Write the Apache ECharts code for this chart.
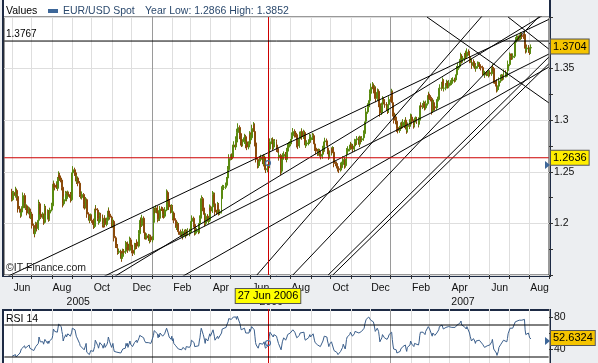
<!DOCTYPE html>
<html><head><meta charset="utf-8">
<script src="https://cdn.jsdelivr.net/npm/echarts@6/dist/echarts.min.js"></script>
<style>html,body{margin:0;padding:0;background:#eceef1;}#c{width:598px;height:363px;}</style>
</head><body><div id="c"></div><script>
// ---------- DATA ----------
const axisStart = '2005-05-20';
const axisDays = 833;
const monthNames = ['Jan','Feb','Mar','Apr','May','Jun','Jul','Aug','Sep','Oct','Nov','Dec'];
const seriesName = 'EUR/USD Spot';
const headerText = 'Year Low: 1.2866 High: 1.3852';
const firstOpen = 1.2310;

const closeJun05 = [1.2230,1.2280,1.2300,1.2270,1.2320,1.2250,1.2260,1.2140,1.2120,1.2080,1.2110,1.2150,1.2270,1.2190,1.2150,1.2170,1.2120,1.2100,1.2140,1.2080,1.2060,1.2090];
const closeJul05 = [1.1980,1.1940,1.1900,1.1930,1.1990,1.1950,1.2030,1.2190,1.2150,1.2090,1.2060,1.2080,1.2030,1.2010,1.2150,1.2110,1.2060,1.2110,1.2040,1.2100,1.2130];
const closeAug05 = [1.2170,1.2250,1.2380,1.2370,1.2350,1.2380,1.2340,1.2420,1.2470,1.2440,1.2420,1.2350,1.2290,1.2190,1.2230,1.2290,1.2240,1.2270,1.2290,1.2280,1.2250,1.2230,1.2340];
const closeSep05 = [1.2490,1.2520,1.2490,1.2460,1.2410,1.2440,1.2390,1.2320,1.2280,1.2260,1.2250,1.2280,1.2180,1.2160,1.2210,1.2230,1.2090,1.2060,1.2030,1.2050,1.2070,1.2030];
const closeOct05 = [1.1990,1.1970,1.2040,1.2140,1.2130,1.2050,1.2010,1.2020,1.2080,1.2070,1.2030,1.1990,1.1980,1.2050,1.1990,1.2030,1.2060,1.2120,1.2090,1.2060,1.1990];
const closeNov05 = [1.1980,1.2020,1.1940,1.1860,1.1790,1.1780,1.1750,1.1720,1.1730,1.1700,1.1660,1.1680,1.1730,1.1720,1.1730,1.1800,1.1770,1.1800,1.1740,1.1840,1.1800,1.1790];
const closeDec05 = [1.1740,1.1710,1.1780,1.1790,1.1770,1.1820,1.1780,1.1900,1.1990,1.2030,1.1980,1.2050,1.1980,1.1910,1.1870,1.1860,1.1880,1.1860,1.1850,1.1830,1.1870,1.1840];
const closeJan06 = [1.1860,1.2010,1.2130,1.2120,1.2150,1.2100,1.2040,1.2100,1.2050,1.2140,1.2140,1.2080,1.2090,1.2070,1.2130,1.2270,1.2300,1.2240,1.2230,1.2160,1.2120,1.2160];
const closeFeb06 = [1.2060,1.2100,1.2030,1.1990,1.1960,1.1960,1.1990,1.1920,1.1890,1.1890,1.1900,1.1870,1.1920,1.1900,1.1880,1.1920,1.1900,1.1930,1.1900,1.1920];
const closeMar06 = [1.1930,1.2020,1.2050,1.1990,1.1910,1.1920,1.1920,1.1930,1.1920,1.2000,1.2050,1.2150,1.2240,1.2150,1.2110,1.2060,1.2000,1.2070,1.2040,1.2020,1.2030,1.2150,1.2120];
const closeApr06 = [1.2160,1.2280,1.2280,1.2190,1.2110,1.2110,1.2180,1.2130,1.2100,1.2110,1.2240,1.2330,1.2350,1.2350,1.2350,1.2370,1.2420,1.2440,1.2520,1.2630];
const closeMay06 = [1.2640,1.2650,1.2640,1.2690,1.2760,1.2740,1.2810,1.2790,1.2880,1.2930,1.2850,1.2870,1.2790,1.2770,1.2790,1.2830,1.2840,1.2760,1.2790,1.2740,1.2770,1.2860,1.2810];
const closeJun06 = [1.2830,1.2920,1.2950,1.2890,1.2780,1.2670,1.2620,1.2560,1.2580,1.2620,1.2620,1.2640,1.2600,1.2580,1.2640,1.2580,1.2520,1.2530,1.2550,1.2550,1.2720,1.2790];
const closeJul06 = [1.2800,1.2810,1.2740,1.2780,1.2790,1.2760,1.2720,1.2710,1.2640,1.2660,1.2510,1.2520,1.2620,1.2650,1.2670,1.2640,1.2620,1.2700,1.2740,1.2760,1.2770];
const closeAug06 = [1.2790,1.2820,1.2850,1.2890,1.2860,1.2870,1.2860,1.2770,1.2750,1.2820,1.2860,1.2860,1.2890,1.2840,1.2880,1.2800,1.2760,1.2770,1.2780,1.2790,1.2790,1.2840,1.2810];
const closeSep06 = [1.2830,1.2850,1.2810,1.2770,1.2730,1.2700,1.2680,1.2690,1.2700,1.2680,1.2650,1.2670,1.2720,1.2710,1.2790,1.2800,1.2780,1.2730,1.2700,1.2650,1.2680];
const closeOct06 = [1.2710,1.2700,1.2720,1.2690,1.2580,1.2580,1.2560,1.2550,1.2530,1.2520,1.2560,1.2540,1.2570,1.2590,1.2620,1.2560,1.2600,1.2670,1.2700,1.2720,1.2730,1.2760];
const closeNov06 = [1.2750,1.2750,1.2720,1.2750,1.2790,1.2780,1.2810,1.2820,1.2790,1.2770,1.2820,1.2810,1.2820,1.2830,1.2870,1.2950,1.2990,1.3080,1.3130,1.3150,1.3190,1.3260];
const closeDec06 = [1.3320,1.3330,1.3310,1.3290,1.3310,1.3210,1.3270,1.3280,1.3230,1.3160,1.3070,1.3140,1.3200,1.3200,1.3180,1.3150,1.3150,1.3120,1.3090,1.3150,1.3200];
const closeJan07 = [1.3200,1.3270,1.3170,1.3070,1.3000,1.3030,1.2990,1.2920,1.2930,1.2900,1.2920,1.2950,1.2960,1.2940,1.2980,1.2950,1.3000,1.2940,1.2900,1.2950,1.2940,1.2980,1.3030];
const closeFeb07 = [1.3030,1.2990,1.2950,1.2990,1.3000,1.3010,1.2990,1.2960,1.3000,1.3090,1.3140,1.3130,1.3140,1.3160,1.3130,1.3120,1.3160,1.3190,1.3240,1.3230];
const closeMar07 = [1.3220,1.3210,1.3090,1.3160,1.3170,1.3130,1.3120,1.3170,1.3200,1.3200,1.3240,1.3310,1.3310,1.3340,1.3380,1.3310,1.3310,1.3330,1.3360,1.3340,1.3330,1.3360];
const closeApr07 = [1.3360,1.3360,1.3380,1.3380,1.3390,1.3390,1.3410,1.3440,1.3490,1.3520,1.3550,1.3590,1.3620,1.3580,1.3590,1.3600,1.3620,1.3640,1.3620,1.3660,1.3650];
const closeMay07 = [1.3610,1.3580,1.3580,1.3530,1.3560,1.3550,1.3530,1.3500,1.3520,1.3540,1.3540,1.3530,1.3520,1.3510,1.3480,1.3460,1.3460,1.3440,1.3450,1.3450,1.3450,1.3440,1.3460];
const closeJun07 = [1.3450,1.3480,1.3510,1.3500,1.3390,1.3380,1.3330,1.3300,1.3310,1.3330,1.3380,1.3410,1.3420,1.3420,1.3410,1.3460,1.3440,1.3440,1.3440,1.3480,1.3540];
const closeJul07 = [1.3620,1.3610,1.3620,1.3610,1.3620,1.3650,1.3760,1.3770,1.3790,1.3790,1.3790,1.3800,1.3800,1.3820,1.3810,1.3810,1.3830,1.3730,1.3680,1.3690,1.3700,1.3680];
const closeAug07 = [1.3660,1.3700,1.3704];

// daily wicks in pips above the body / below the body: [up, down]
const wickJun05 = [[25,18],[30,12],[15,28],[22,20],[35,15],[18,30],[25,22],[12,35],[28,16],[20,26],[32,14],[16,24],[30,20],[22,34],[18,20],[26,15],[14,28],[20,22],[24,12],[15,30],[28,18],[20,16]];
const wickJul05 = [[22,30],[18,25],[15,35],[30,14],[26,20],[20,28],[35,15],[40,22],[18,30],[24,26],[20,18],[28,15],[16,30],[22,24],[38,12],[20,28],[15,22],[26,18],[20,24],[28,15],[22,20]];
const wickAug05 = [[30,14],[26,18],[35,12],[20,25],[18,30],[28,16],[22,24],[30,15],[35,20],[20,28],[24,22],[16,30],[20,26],[15,35],[30,18],[25,15],[20,26],[22,18],[28,20],[18,22],[24,25],[16,28],[38,14]];
const wickSep05 = [[40,15],[35,22],[20,30],[18,26],[22,28],[30,15],[15,30],[20,32],[18,24],[25,20],[22,18],[30,15],[14,34],[20,26],[28,16],[26,20],[12,36],[18,24],[20,28],[24,18],[26,15],[18,25]];
const wickOct05 = [[16,30],[20,24],[30,15],[38,14],[22,26],[18,28],[20,22],[24,18],[28,15],[22,20],[16,26],[18,30],[20,22],[30,14],[15,28],[26,18],[28,16],[35,14],[20,26],[18,24],[14,32]];
const wickNov05 = [[24,22],[30,18],[15,30],[18,35],[16,28],[22,20],[20,26],[18,24],[26,16],[15,28],[20,32],[28,14],[26,18],[22,20],[24,15],[30,14],[18,22],[25,18],[16,26],[32,12],[20,24],[22,20]];
const wickDec05 = [[18,30],[20,26],[28,14],[22,18],[20,24],[26,16],[18,28],[35,14],[30,18],[28,20],[20,30],[34,15],[18,30],[16,28],[20,24],[22,18],[24,16],[18,22],[20,20],[16,24],[24,15],[20,22]];
const wickJan06 = [[16,24],[35,12],[32,18],[22,24],[26,18],[20,28],[18,30],[28,16],[20,26],[30,14],[24,20],[18,26],[22,20],[20,24],[28,16],[38,12],[30,20],[18,30],[22,22],[16,30],[20,24],[26,18]];
const wickFeb06 = [[18,30],[26,20],[16,28],[20,26],[22,24],[20,22],[26,16],[14,30],[20,24],[22,20],[24,18],[16,26],[28,14],[20,22],[18,24],[26,16],[20,22],[24,18],[18,24],[22,20]];
const wickMar06 = [[20,24],[32,14],[28,18],[16,30],[18,28],[22,20],[20,22],[24,18],[20,24],[30,15],[28,18],[36,14],[32,20],[16,32],[20,26],[18,28],[16,30],[28,16],[20,24],[18,22],[24,20],[34,14],[22,24]];
const wickApr06 = [[28,18],[34,14],[22,20],[18,30],[16,28],[22,22],[28,16],[18,26],[20,24],[24,18],[35,14],[30,16],[24,20],[22,22],[20,24],[26,18],[30,16],[24,20],[36,14],[40,16]];
const wickMay06 = [[30,20],[28,22],[24,26],[32,18],[36,16],[22,28],[34,18],[24,26],[38,15],[40,20],[20,34],[28,22],[18,36],[22,30],[26,24],[30,20],[28,22],[18,32],[24,24],[20,30],[26,22],[34,18],[22,28]];
const wickJun06 = [[30,20],[36,18],[32,22],[20,30],[18,34],[16,36],[20,30],[18,28],[26,22],[28,20],[24,24],[26,20],[22,26],[20,28],[30,18],[18,30],[16,32],[22,24],[24,22],[26,20],[38,14],[34,18]];
const wickJul06 = [[26,22],[24,24],[18,30],[26,22],[28,20],[22,26],[20,28],[24,24],[18,32],[26,22],[14,40],[22,26],[34,16],[30,20],[28,22],[22,26],[20,28],[32,18],[30,20],[28,22],[26,24]];
const wickAug06 = [[28,22],[30,20],[32,18],[34,16],[22,28],[26,24],[24,26],[18,34],[20,30],[32,18],[30,20],[26,24],[32,18],[20,30],[28,22],[18,32],[20,28],[24,24],[26,22],[24,24],[22,26],[30,20],[20,28]];
const wickSep06 = [[30,20],[28,22],[20,30],[18,30],[20,28],[18,32],[22,26],[24,24],[26,22],[22,26],[18,30],[24,24],[32,18],[24,26],[36,16],[30,20],[22,28],[18,32],[20,30],[16,34],[26,22]];
const wickOct06 = [[26,22],[24,24],[28,20],[20,28],[16,36],[22,26],[20,28],[18,30],[20,28],[18,32],[30,18],[22,26],[28,20],[30,18],[32,16],[18,30],[28,20],[34,16],[30,18],[28,20],[26,22],[30,18]];
const wickNov06 = [[24,24],[26,22],[20,28],[28,20],[30,18],[24,24],[28,20],[26,22],[20,28],[18,30],[30,18],[24,24],[26,22],[28,20],[32,16],[38,14],[34,18],[40,14],[34,18],[30,20],[34,16],[38,14]];
const wickDec06 = [[36,18],[40,20],[26,28],[22,30],[30,22],[18,36],[30,22],[28,24],[20,30],[18,34],[16,36],[30,20],[32,18],[26,24],[22,28],[20,30],[24,24],[20,28],[18,30],[30,20],[32,18]];
const wickJan07 = [[28,22],[34,18],[18,34],[16,34],[18,32],[28,20],[20,30],[16,34],[24,24],[20,28],[26,22],[28,20],[26,22],[22,26],[30,18],[22,26],[30,18],[18,30],[16,32],[28,20],[22,26],[30,18],[34,16]];
const wickFeb07 = [[28,22],[20,30],[18,32],[28,20],[26,22],[26,22],[22,26],[18,30],[28,20],[36,16],[34,18],[24,26],[26,22],[30,20],[20,28],[22,26],[30,18],[32,18],[36,16],[24,26]];
const wickMar07 = [[26,24],[22,28],[16,36],[30,20],[28,22],[20,30],[22,28],[30,20],[28,22],[24,24],[32,18],[38,16],[26,24],[32,18],[34,18],[18,32],[24,26],[30,20],[32,18],[22,28],[24,24],[30,20]];
const wickApr07 = [[26,22],[24,24],[28,20],[24,24],[26,22],[22,26],[30,18],[32,18],[36,16],[34,18],[34,16],[36,18],[34,18],[20,30],[28,22],[30,20],[32,18],[34,18],[22,28],[36,16],[26,24]];
const wickMay07 = [[20,30],[22,28],[26,24],[18,32],[30,20],[24,26],[22,28],[18,30],[28,22],[30,20],[26,24],[22,26],[24,24],[22,28],[18,30],[20,28],[24,24],[18,30],[26,22],[24,24],[26,22],[22,26],[28,20]];
const wickJun07 = [[24,26],[30,20],[32,18],[24,26],[16,34],[22,28],[18,30],[16,32],[26,22],[30,18],[34,16],[32,18],[28,22],[26,24],[24,26],[32,18],[24,26],[26,22],[24,24],[32,18],[38,14]];
const wickJul07 = [[36,16],[26,24],[28,22],[24,26],[28,22],[32,18],[40,14],[34,18],[34,16],[30,20],[30,20],[32,18],[28,22],[34,16],[26,24],[28,22],[36,16],[18,36],[16,34],[26,24],[28,22],[22,28]];
const wickAug07 = [[22,28],[32,18],[28,22]];

const rsiJun05 = [31,29,30,33,30,32,29,31,35,33,40,42,39,44,41,43,40,42,45,41,43,40];
const rsiJul05 = [40,38,36,39,43,41,47,55,52,49,47,49,46,45,52,50,47,50,47,50,52];
const rsiAug05 = [53,57,65,64,62,64,61,66,71,69,68,62,58,50,53,58,55,57,59,58,56,54,61];
const rsiSep05 = [66,68,64,60,56,58,54,47,44,43,42,46,39,37,44,47,36,35,33,35,38,36];
const rsiOct05 = [37,36,43,51,50,44,41,42,48,47,44,41,40,47,42,46,49,55,52,49,42];
const rsiNov05 = [44,47,41,37,35,36,35,34,36,35,33,36,40,39,41,47,44,47,42,50,46,45];
const rsiDec05 = [45,43,48,49,47,51,48,54,57,59,55,58,54,51,49,48,50,48,47,46,49,47];
const rsiJan06 = [48,57,63,62,64,59,54,58,55,60,60,56,57,55,59,66,67,61,60,55,52,56];
const rsiFeb06 = [50,53,47,44,42,42,45,40,38,38,39,37,42,41,39,43,41,44,42,44];
const rsiMar06 = [45,51,53,48,43,44,44,45,44,50,54,61,66,58,55,51,47,53,50,49,50,59,56];
const rsiApr06 = [58,64,63,56,51,51,56,53,51,52,60,65,66,66,66,67,70,71,74,78];
const rsiMay06 = [76,77,75,77,80,78,80,77,81,82,72,73,64,62,64,66,66,60,62,58,60,65,62];
const rsiJun06 = [63,68,70,64,56,48,45,41,43,47,47,49,46,44,49,45,41,42,44,44,56,61];
const rsiJul06 = [60,60,55,58,59,56,53,52,47,49,39,40,49,51,54,51,49,55,58,60,60];
const rsiAug06 = [60,61,62,64,61,62,60,54,52,57,60,60,62,58,61,54,51,52,53,54,54,58,55];
const rsiSep06 = [57,59,55,51,48,46,45,46,47,45,43,45,50,49,56,57,55,50,47,43,46];
const rsiOct06 = [49,48,50,47,38,38,36,35,33,32,37,35,39,42,46,40,45,52,55,57,58,61];
const rsiNov06 = [59,59,56,59,62,61,63,63,60,58,62,61,62,63,66,71,73,77,79,80,81,82];
const rsiDec06 = [76,77,74,71,73,62,66,67,62,56,49,54,58,58,56,54,54,52,50,55,58];
const rsiJan07 = [58,61,52,45,40,42,39,35,36,34,37,40,41,39,43,41,45,40,37,42,41,45,50];
const rsiFeb07 = [50,46,43,47,48,49,47,45,49,57,61,60,61,63,59,58,62,64,68,66];
const rsiMar07 = [65,64,56,60,61,58,57,60,62,62,64,68,68,70,71,65,65,67,69,66,65,68];
const rsiApr07 = [66,66,67,67,68,67,68,69,70,71,72,74,75,70,70,68,68,69,65,68,66];
const rsiMay07 = [60,56,56,50,53,52,50,47,50,52,52,51,50,49,46,44,44,42,44,44,44,43,46];
const rsiJun07 = [45,49,52,51,40,39,35,32,34,37,42,46,47,47,46,51,49,49,49,53,59];
const rsiJul07 = [66,65,66,65,66,68,74,74,76,76,76,76,76,77,76,76,77,64,58,59,60,57];
const rsiAug07 = [54,55,52.6324];

const monthKeys = ['2005-06','2005-07','2005-08','2005-09','2005-10','2005-11','2005-12',
  '2006-01','2006-02','2006-03','2006-04','2006-05','2006-06','2006-07','2006-08','2006-09','2006-10','2006-11','2006-12',
  '2007-01','2007-02','2007-03','2007-04','2007-05','2007-06','2007-07','2007-08'];
const closeMonths = [closeJun05,closeJul05,closeAug05,closeSep05,closeOct05,closeNov05,closeDec05,
  closeJan06,closeFeb06,closeMar06,closeApr06,closeMay06,closeJun06,closeJul06,closeAug06,closeSep06,closeOct06,closeNov06,closeDec06,
  closeJan07,closeFeb07,closeMar07,closeApr07,closeMay07,closeJun07,closeJul07,closeAug07];
const wickMonths = [wickJun05,wickJul05,wickAug05,wickSep05,wickOct05,wickNov05,wickDec05,
  wickJan06,wickFeb06,wickMar06,wickApr06,wickMay06,wickJun06,wickJul06,wickAug06,wickSep06,wickOct06,wickNov06,wickDec06,
  wickJan07,wickFeb07,wickMar07,wickApr07,wickMay07,wickJun07,wickJul07,wickAug07];
const rsiMonths = [rsiJun05,rsiJul05,rsiAug05,rsiSep05,rsiOct05,rsiNov05,rsiDec05,
  rsiJan06,rsiFeb06,rsiMar06,rsiApr06,rsiMay06,rsiJun06,rsiJul06,rsiAug06,rsiSep06,rsiOct06,rsiNov06,rsiDec06,
  rsiJan07,rsiFeb07,rsiMar07,rsiApr07,rsiMay07,rsiJun07,rsiJul07,rsiAug07];

// trend lines: [startDate, startValue, endDate, endValue]
const trendLines = [
  ['2005-05-20',1.1471,'2007-08-30',1.3976],
  ['2005-05-20',1.1003,'2007-08-30',1.3640],
  ['2005-05-20',1.0834,'2007-08-30',1.4051],
  ['2005-05-20',1.0500,'2007-08-30',1.3514],
  ['2006-06-10',1.1500,'2007-08-30',1.4751],
  ['2006-08-04',1.1500,'2007-08-30',1.4103],
  ['2006-09-27',1.1500,'2007-08-30',1.3610],
  ['2006-10-04',1.1500,'2007-08-30',1.3545],
  ['2007-02-25',1.4000,'2007-08-30',1.3169],
  ['2007-06-29',1.4000,'2007-08-30',1.3690]
];
const levelLine = 1.3767;
const crossDate = '2006-06-27', crossValue = 1.2636;
const crossLabel = '27 Jun 2006';
const crossMarkers = [1.2585, 47.5];
const lastPrice = 1.3704, lastRsi = 52.6324;
const pointerMarks = [1.2565, 52.6324];
const rsiLevels = [70, 30];
const rsiTickLabels = [80, 40];
const yearLabelDates = {'2005-09-10':'2005','2006-07-02':'2006','2007-04-21':'2007'};

// ---------- BUILD ----------
function iso(d){return d.toISOString().slice(0,10);}
const s0 = new Date(axisStart + 'T00:00:00Z');
const cats = [];
for (let i = 0; i < axisDays; i++) cats.push(iso(new Date(s0.getTime() + i*86400000)));
const firstCat = cats[0], lastCat = cats[cats.length - 1];
const priceMap = {}, rsiMap = {};
let prev = firstOpen;
monthKeys.forEach((mk, mi) => {
  const [y, m] = mk.split('-').map(Number);
  const days = [];
  for (let d = 1; d <= 31; d++) {
    const dt = new Date(Date.UTC(y, m-1, d));
    if (dt.getUTCMonth() !== m-1) break;
    const wd = dt.getUTCDay();
    if (wd !== 0 && wd !== 6) days.push(iso(dt));
  }
  closeMonths[mi].forEach((c, k) => {
    if (k >= days.length) return;
    const w = wickMonths[mi][k];
    priceMap[days[k]] = [prev, c, Math.min(prev, c) - w[1]/10000, Math.max(prev, c) + w[0]/10000];
    prev = c;
  });
  rsiMonths[mi].forEach((r, k) => { if (k < days.length) rsiMap[days[k]] = r; });
});
const candleData = cats.map(d => priceMap[d] || '-');
const rsiData = cats.map(d => (rsiMap[d] !== undefined ? rsiMap[d] : '-'));

const isMonthStart = (i, v) => v.slice(8) === '01';
const isYearStart = (i, v) => v.slice(5) === '01-01';
const isMonthLabel = (i, v) => v.slice(8) === '16' && (+v.slice(5,7)) % 2 === 0;
const fnt = 'Liberation Sans, Arial, sans-serif';

const mkX = (grid, opt) => Object.assign({
  type: 'category', gridIndex: grid, data: cats, boundaryGap: true, position: 'bottom',
  axisLine: {show: false}, axisTick: {show: false}, axisLabel: {show: false},
  splitLine: {show: false}
}, opt);
const hLine = (axisX, axisY, v, color) => ({type: 'line', xAxisIndex: axisX, yAxisIndex: axisY,
  data: [[firstCat, v], [lastCat, v]], symbol: 'none', silent: true, z: 5, lineStyle: {color: color, width: 1}});
const crossMark = (v) => ({silent: true, animation: false, symbol: 'circle', symbolSize: 5,
  itemStyle: {color: 'rgba(0,0,0,0)', borderColor: '#4a6f9e', borderWidth: 1.2},
  label: {show: false}, data: [{coord: [crossDate, v]}]});

const option = {
  animation: false,
  backgroundColor: '#eceef1',
  grid: [
    {left: 4, top: 17, width: 545, height: 258, show: true, borderColor: '#333', borderWidth: 1, backgroundColor: 'transparent',
      containLabel: false, outerBoundsMode: 'none'},
    {left: 4, top: 309, width: 545, height: 56, containLabel: false, outerBoundsMode: 'none'}
  ],
  xAxis: [
    mkX(0, {
      axisTick: {show: true, interval: isMonthStart, length: 4, lineStyle: {color: '#333'}},
      axisLabel: {show: true, interval: isMonthLabel, margin: 8, fontFamily: fnt, fontSize: 10.5, color: '#111',
        formatter: v => monthNames[+v.slice(5,7)-1]},
      splitLine: {show: true, interval: isMonthStart, lineStyle: {color: '#dedede', width: 1}}
    }),
    mkX(0, {
      axisLabel: {show: true, interval: (i, v) => !!yearLabelDates[v], margin: 22, fontFamily: fnt, fontSize: 10.5, color: '#111',
        formatter: v => yearLabelDates[v] || ''}
    }),
    mkX(0, {splitLine: {show: true, interval: isYearStart, lineStyle: {color: '#9a9a9a', width: 1}}}),
    mkX(1, {splitLine: {show: true, interval: isMonthStart, lineStyle: {color: '#dedede', width: 1}}}),
    mkX(1, {splitLine: {show: true, interval: isYearStart, lineStyle: {color: '#9a9a9a', width: 1}}})
  ],
  yAxis: [
    {type: 'value', gridIndex: 0, position: 'right', min: 1.15, max: 1.40, interval: 0.05,
      axisLine: {show: false},
      axisTick: {show: true, length: 4, lineStyle: {color: '#333'}},
      minorTick: {show: true, splitNumber: 2, length: 4, lineStyle: {color: '#333'}},
      axisLabel: {showMinLabel: false, showMaxLabel: false, margin: 5, fontFamily: fnt, fontSize: 10.5, color: '#111'},
      splitLine: {show: true, lineStyle: {color: '#dedede'}}},
    {type: 'value', gridIndex: 1, position: 'right', min: 20, max: 90, interval: 20,
      axisLine: {show: false},
      axisTick: {show: true, length: 4, lineStyle: {color: '#333'}},
      axisLabel: {showMaxLabel: false, showMinLabel: false, margin: 5, fontFamily: fnt, fontSize: 10.5, color: '#111',
        formatter: v => (rsiTickLabels.indexOf(v) >= 0 ? String(v) : '')},
      splitLine: {show: false}}
  ],
  series: [
    {type: 'candlestick', xAxisIndex: 0, yAxisIndex: 0, data: candleData, barWidth: 1.4, large: false,
      itemStyle: {color: '#30c030', color0: '#c81a12', borderColor: '#5a8a10', borderColor0: '#8a4a0a', borderWidth: 1},
      z: 3,
      markPoint: crossMark(crossMarkers[0]),
      markLine: {silent: true, symbol: 'none', animation: false,
        data: [{xAxis: crossDate, lineStyle: {color: '#cc0000', width: 1, type: 'solid'}, label: {show: false}}]}},
    ...trendLines.map(t => ({type: 'line', xAxisIndex: 0, yAxisIndex: 0, data: [[t[0], t[1]], [t[2], t[3]]],
      symbol: 'none', silent: true, clip: true, z: 4, lineStyle: {color: '#000', width: 1}})),
    hLine(0, 0, levelLine, '#000'),
    hLine(0, 0, crossValue, '#cc0000'),
    {type: 'line', xAxisIndex: 3, yAxisIndex: 1, data: rsiData, connectNulls: true, symbol: 'none', z: 3,
      lineStyle: {color: '#3b5f8c', width: 1},
      markPoint: crossMark(crossMarkers[1]),
      markLine: {silent: true, symbol: 'none', animation: false,
        data: [{xAxis: crossDate, lineStyle: {color: '#cc0000', width: 1, type: 'solid'}, label: {show: false}}]}},
    ...rsiLevels.map(v => hLine(3, 1, v, '#000'))
  ],
  graphic: []
};

const chart = echarts.init(document.getElementById('c'), null, {renderer: 'canvas'});
chart.setOption(option);

const yPx = v => chart.convertToPixel({yAxisIndex: 0}, v);
const yRsiPx = v => chart.convertToPixel({yAxisIndex: 1}, v);
const xPx = d => chart.convertToPixel({xAxisIndex: 0}, d);
const tag = (x, y, text, bg, align) => ({type: 'text', x: x, y: y, z: 50,
  style: {text: text, font: '11px ' + fnt, fill: '#000', backgroundColor: bg, borderColor: '#555', borderWidth: 1,
    padding: [2, 2, 1, 2], align: align || 'left', verticalAlign: 'middle'}});
const tri = (y) => ({type: 'polygon', z: 50, shape: {points: [[545, y - 4], [550, y], [545, y + 4]]}, style: {fill: '#3d6799'}});

chart.setOption({graphic: [
  {type: 'rect', z: -10, shape: {x: 3, y: -3, width: 547, height: 279}, style: {fill: '#fff', stroke: '#1d2a44', lineWidth: 2}},
  {type: 'rect', z: -10, shape: {x: 3, y: 310, width: 547, height: 60}, style: {fill: '#fff', stroke: '#1d2a44', lineWidth: 2}},
  {type: 'text', x: 6, y: 11, z: 50, style: {text: 'Values', font: '10.5px ' + fnt, fill: '#000', verticalAlign: 'middle'}},
  {type: 'rect', z: 50, shape: {x: 48, y: 9, width: 10, height: 4}, style: {fill: '#3d6799'}},
  {type: 'text', x: 63, y: 11, z: 50, style: {text: seriesName, font: '10.5px ' + fnt, fill: '#2c4a6e', verticalAlign: 'middle'}},
  {type: 'text', x: 145, y: 11, z: 50, style: {text: headerText, font: '10.5px ' + fnt, fill: '#2c4a6e', verticalAlign: 'middle'}},
  {type: 'text', x: 6, y: yPx(levelLine) - 7, z: 50, style: {text: String(levelLine), font: '10px ' + fnt, fill: '#000', verticalAlign: 'middle'}},
  {type: 'text', x: 6, y: 268, z: 50, style: {text: '©IT-Finance.com', font: '10.5px ' + fnt, fill: '#222', verticalAlign: 'middle'}},
  {type: 'text', x: 6, y: 319, z: 50, style: {text: 'RSI 14', font: '10.5px ' + fnt, fill: '#000', verticalAlign: 'middle'}},
  tri(yPx(pointerMarks[0])),
  tri(yRsiPx(pointerMarks[1]) + 2),
  tag(551, yPx(lastPrice) - 1, lastPrice.toFixed(4), '#f5c400'),
  tag(551, yPx(crossValue), crossValue.toFixed(4), '#ffee00'),
  tag(551, yRsiPx(lastRsi) - 1, lastRsi.toFixed(4), '#f5c400'),
  tag(xPx(crossDate), 296, crossLabel, '#ffff00', 'center')
]});
</script></body></html>
